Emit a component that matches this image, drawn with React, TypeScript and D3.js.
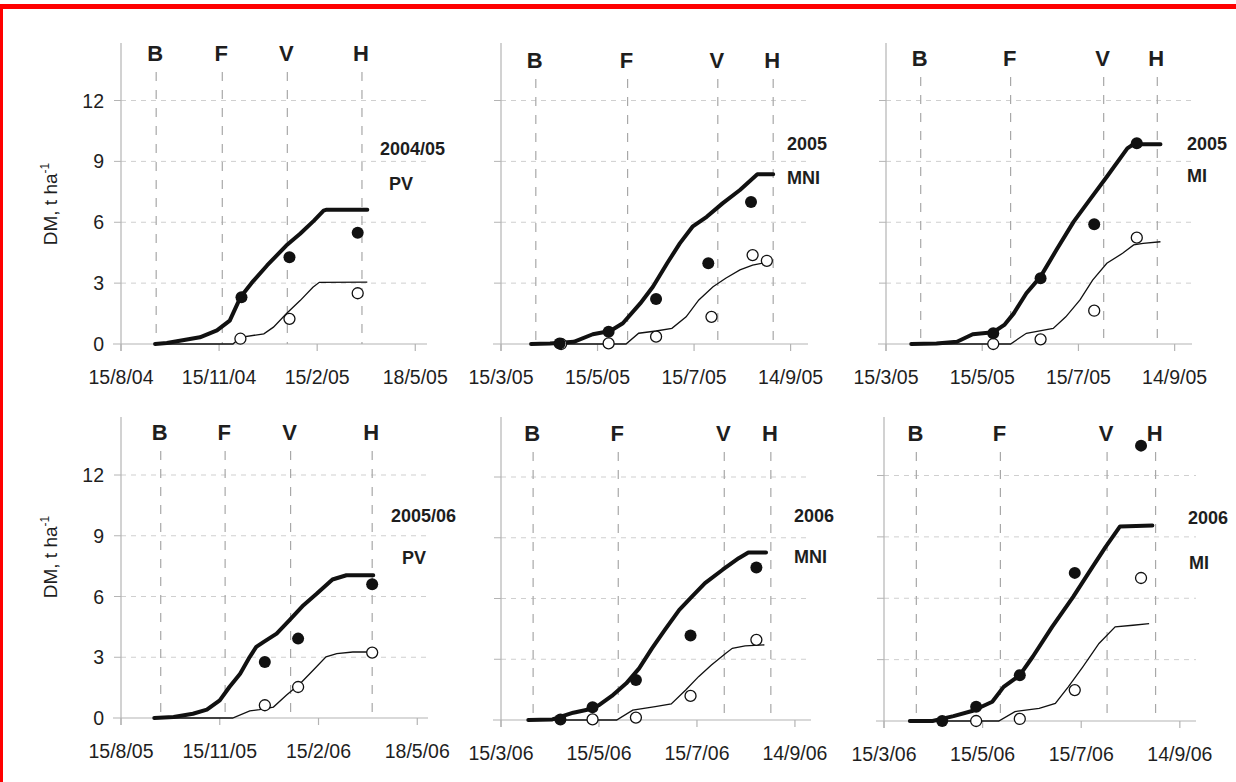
import React from 'react'
import * as d3 from 'd3'

type Pt = [string, number]

// ---------- data ----------
const stageNames = ['B', 'F', 'V', 'H']
const yTicks = [0, 3, 6, 9, 12]

// 2004/05 PV
const domain0405 = ['2004-08-15', '2005-05-29']
const ticks0405 = ['2004-08-15', '2004-11-15', '2005-02-15', '2005-05-18']
const stages0405 = ['2004-09-17', '2004-11-18', '2005-01-18', '2005-03-29']
const total0405: Pt[] = [['2004-09-16', 0], ['2004-09-27', 0.05], ['2004-10-28', 0.33], ['2004-11-13', 0.67], ['2004-11-25', 1.15], ['2004-12-05', 2.3], ['2004-12-17', 3.1], ['2004-12-30', 3.87], ['2005-01-17', 4.85], ['2005-01-30', 5.43], ['2005-02-12', 6.08], ['2005-02-21', 6.57], ['2005-02-24', 6.62], ['2005-04-03', 6.62]]
const grain0405: Pt[] = [['2004-09-16', 0], ['2004-11-28', 0], ['2004-12-05', 0.33], ['2004-12-27', 0.5], ['2005-01-05', 0.83], ['2005-01-17', 1.49], ['2005-01-30', 2.14], ['2005-02-11', 2.8], ['2005-02-17', 3.04], ['2005-04-03', 3.05]]
const obsTotal0405: Pt[] = [['2004-12-06', 2.3], ['2005-01-20', 4.28], ['2005-03-25', 5.48]]
const obsGrain0405: Pt[] = [['2004-12-05', 0.26], ['2005-01-20', 1.24], ['2005-03-25', 2.5]]

// 2005 MNI
const domain2005 = ['2005-03-15', '2005-09-25']
const ticks2005 = ['2005-03-15', '2005-05-15', '2005-07-15', '2005-09-14']
const stages05mni = ['2005-04-06', '2005-06-03', '2005-07-30', '2005-09-03']
const total05mni: Pt[] = [['2005-04-03', 0], ['2005-04-15', 0.03], ['2005-04-30', 0.11], ['2005-05-12', 0.48], ['2005-05-23', 0.64], ['2005-05-31', 1.02], ['2005-06-11', 2.0], ['2005-06-19', 2.82], ['2005-06-28', 3.98], ['2005-07-06', 4.96], ['2005-07-14', 5.78], ['2005-07-23', 6.27], ['2005-08-02', 6.93], ['2005-08-13', 7.59], ['2005-08-24', 8.36], ['2005-09-03', 8.36]]
const grain05mni: Pt[] = [['2005-04-03', 0], ['2005-06-02', 0], ['2005-06-10', 0.53], ['2005-06-21', 0.64], ['2005-07-01', 0.77], ['2005-07-10', 1.34], ['2005-07-18', 2.17], ['2005-07-27', 2.82], ['2005-08-04', 3.24], ['2005-08-13', 3.65], ['2005-08-21', 3.89], ['2005-09-01', 4.05]]
const obsTotal05mni: Pt[] = [['2005-04-21', 0.03], ['2005-05-22', 0.6], ['2005-06-21', 2.22], ['2005-07-24', 3.98], ['2005-08-20', 7.0]]
const obsGrain05mni: Pt[] = [['2005-04-22', 0], ['2005-05-22', 0.03], ['2005-06-21', 0.36], ['2005-07-26', 1.34], ['2005-08-21', 4.38], ['2005-08-30', 4.1]]

// 2005 MI
const stages05mi = ['2005-04-06', '2005-06-02', '2005-07-31', '2005-09-03']
const total05mi: Pt[] = [['2005-03-31', 0], ['2005-04-16', 0.03], ['2005-04-29', 0.11], ['2005-05-09', 0.48], ['2005-05-22', 0.58], ['2005-05-29', 0.94], ['2005-06-04', 1.51], ['2005-06-12', 2.5], ['2005-06-21', 3.32], ['2005-07-01', 4.63], ['2005-07-12', 6.03], ['2005-07-22', 7.09], ['2005-08-02', 8.24], ['2005-08-15', 9.64], ['2005-08-19', 9.85], ['2005-09-05', 9.85]]
const grain05mi: Pt[] = [['2005-03-31', 0], ['2005-06-02', 0], ['2005-06-12', 0.53], ['2005-06-29', 0.77], ['2005-07-07', 1.34], ['2005-07-16', 2.17], ['2005-07-24', 3.15], ['2005-08-02', 3.98], ['2005-08-12', 4.47], ['2005-08-19', 4.88], ['2005-08-25', 4.96], ['2005-09-05', 5.04]]
const obsTotal05mi: Pt[] = [['2005-05-22', 0.53], ['2005-06-21', 3.24], ['2005-07-25', 5.9], ['2005-08-21', 9.89]]
const obsGrain05mi: Pt[] = [['2005-05-22', 0], ['2005-06-21', 0.23], ['2005-07-25', 1.64], ['2005-08-21', 5.24]]

// 2005/06 PV
const domain0506 = ['2005-08-15', '2006-05-28']
const ticks0506 = ['2005-08-15', '2005-11-15', '2006-02-15', '2006-05-18']
const stages0506 = ['2005-09-21', '2005-11-20', '2006-01-20', '2006-04-06']
const total0506: Pt[] = [['2005-09-15', 0], ['2005-10-03', 0.05], ['2005-10-21', 0.21], ['2005-11-03', 0.41], ['2005-11-15', 0.87], ['2005-11-24', 1.53], ['2005-12-04', 2.19], ['2005-12-13', 3.02], ['2005-12-19', 3.51], ['2005-12-26', 3.76], ['2006-01-07', 4.17], ['2006-01-19', 4.83], ['2006-02-01', 5.57], ['2006-02-13', 6.12], ['2006-02-28', 6.84], ['2006-03-13', 7.05], ['2006-04-07', 7.05]]
const grain0506: Pt[] = [['2005-09-15', 0], ['2005-11-27', 0], ['2005-12-13', 0.35], ['2005-12-22', 0.41], ['2006-01-04', 0.54], ['2006-01-16', 1.12], ['2006-01-29', 1.7], ['2006-02-10', 2.36], ['2006-02-22', 3.02], ['2006-03-04', 3.18], ['2006-03-19', 3.26], ['2006-04-07', 3.26]]
const obsTotal0506: Pt[] = [['2005-12-27', 2.77], ['2006-01-27', 3.92], ['2006-04-06', 6.61]]
const obsGrain0506: Pt[] = [['2005-12-27', 0.63], ['2006-01-27', 1.53], ['2006-04-06', 3.23]]

// 2006 MNI
const domain2006 = ['2006-03-15', '2006-09-24']
const ticks2006 = ['2006-03-15', '2006-05-15', '2006-07-15', '2006-09-14']
const stages06mni = ['2006-04-04', '2006-05-27', '2006-08-01', '2006-08-30']
const total06mni: Pt[] = [['2006-04-01', 0], ['2006-04-16', 0.03], ['2006-04-29', 0.36], ['2006-05-07', 0.49], ['2006-05-15', 0.74], ['2006-05-23', 1.19], ['2006-06-01', 1.81], ['2006-06-09', 2.55], ['2006-06-17', 3.54], ['2006-06-25', 4.45], ['2006-07-04', 5.44], ['2006-07-12', 6.1], ['2006-07-20', 6.76], ['2006-07-31', 7.42], ['2006-08-10', 7.99], ['2006-08-16', 8.27], ['2006-08-27', 8.27]]
const grain06mni: Pt[] = [['2006-04-01', 0], ['2006-05-26', 0], ['2006-06-05', 0.49], ['2006-06-19', 0.66], ['2006-06-29', 0.79], ['2006-07-08', 1.48], ['2006-07-16', 2.14], ['2006-07-24', 2.72], ['2006-08-02', 3.3], ['2006-08-06', 3.54], ['2006-08-14', 3.66], ['2006-08-26', 3.71]]
const obsTotal06mni: Pt[] = [['2006-04-21', 0.03], ['2006-05-11', 0.63], ['2006-06-07', 1.98], ['2006-07-11', 4.17], ['2006-08-21', 7.53]]
const obsGrain06mni: Pt[] = [['2006-05-11', 0.03], ['2006-06-07', 0.12], ['2006-07-11', 1.19], ['2006-08-21', 3.96]]

// 2006 MI
const stages06mi = ['2006-04-04', '2006-05-26', '2006-07-31', '2006-08-30']
const total06mi: Pt[] = [['2006-03-31', 0], ['2006-04-14', 0], ['2006-04-27', 0.24], ['2006-05-09', 0.5], ['2006-05-21', 0.94], ['2006-05-28', 1.67], ['2006-06-07', 2.24], ['2006-06-15', 3.14], ['2006-06-27', 4.6], ['2006-07-10', 6.07], ['2006-07-22', 7.53], ['2006-07-30', 8.5], ['2006-08-08', 9.51], ['2006-08-28', 9.56]]
const grain06mi: Pt[] = [['2006-03-31', 0], ['2006-05-25', 0], ['2006-06-04', 0.46], ['2006-06-19', 0.62], ['2006-06-29', 0.86], ['2006-07-07', 1.67], ['2006-07-16', 2.65], ['2006-07-26', 3.79], ['2006-08-05', 4.6], ['2006-08-16', 4.68], ['2006-08-26', 4.76]]
const obsTotal06mi: Pt[] = [['2006-04-20', 0], ['2006-05-11', 0.7], ['2006-06-07', 2.24], ['2006-07-11', 7.24], ['2006-08-21', 13.46]]
const obsGrain06mi: Pt[] = [['2006-05-11', 0], ['2006-06-07', 0.1], ['2006-07-11', 1.51], ['2006-08-21', 6.99]]

const panels = [
  { domain: domain0405, ticks: ticks0405, stages: stages0405, total: total0405, grain: grain0405, obsTotal: obsTotal0405, obsGrain: obsGrain0405, labels: ['2004/05', 'PV'] },
  { domain: domain2005, ticks: ticks2005, stages: stages05mni, total: total05mni, grain: grain05mni, obsTotal: obsTotal05mni, obsGrain: obsGrain05mni, labels: ['2005', 'MNI'] },
  { domain: domain2005, ticks: ticks2005, stages: stages05mi, total: total05mi, grain: grain05mi, obsTotal: obsTotal05mi, obsGrain: obsGrain05mi, labels: ['2005', 'MI'] },
  { domain: domain0506, ticks: ticks0506, stages: stages0506, total: total0506, grain: grain0506, obsTotal: obsTotal0506, obsGrain: obsGrain0506, labels: ['2005/06', 'PV'] },
  { domain: domain2006, ticks: ticks2006, stages: stages06mni, total: total06mni, grain: grain06mni, obsTotal: obsTotal06mni, obsGrain: obsGrain06mni, labels: ['2006', 'MNI'] },
  { domain: domain2006, ticks: ticks2006, stages: stages06mi, total: total06mi, grain: grain06mi, obsTotal: obsTotal06mi, obsGrain: obsGrain06mi, labels: ['2006', 'MI'] },
]

// ---------- layout ----------
const layout = [
  { left: 121, right: 427, y0: 344, y12: 100.5, top: 43, stageY: 53, yLabels: true, lx: [380, 389], ly: [148, 183] },
  { left: 501, right: 808, y0: 344, y12: 100.5, top: 43, stageY: 60, yLabels: false, lx: [787, 787], ly: [143, 177] },
  { left: 886, right: 1192, y0: 344, y12: 100.5, top: 43, stageY: 58, yLabels: false, lx: [1187, 1187], ly: [143, 175] },
  { left: 121, right: 428, y0: 718, y12: 475, top: 417, stageY: 432, yLabels: true, lx: [391, 402], ly: [515, 557] },
  { left: 501, right: 811, y0: 720, y12: 477, top: 417, stageY: 433, yLabels: false, lx: [794, 794], ly: [515, 556] },
  { left: 884, right: 1196, y0: 721, y12: 475.5, top: 417, stageY: 433, yLabels: false, lx: [1188, 1189], ly: [517, 562] },
]

const parse = d3.utcParse('%Y-%m-%d')
const fmt = d3.utcFormat('%-d/%-m/%y')
const FONT = "'Liberation Sans', Arial, sans-serif"
const AXIS = '#b4b4b4'
const GRID = '#cfcfcf'
const STAGE = '#a8a8a8'
const TEXT = '#1e1e1e'

const Panel = ({ p, l }: { p: typeof panels[0]; l: typeof layout[0] }) => {
  const x = d3.scaleUtc().domain(p.domain.map((d) => parse(d)!)).range([l.left, l.right])
  const y = d3.scaleLinear().domain([0, 12]).range([l.y0, l.y12])
  const line = d3.line<Pt>().x((d) => x(parse(d[0])!)).y((d) => y(d[1]))

  return (
    <g>
      {/* horizontal grid + y ticks */}
      {yTicks.filter((t) => t > 0).map((t) => (
        <g key={t}>
          <line x1={l.left} x2={l.right} y1={y(t)} y2={y(t)} stroke={GRID} strokeWidth={1} strokeDasharray="5,5" />
          <line x1={l.left - 7} x2={l.left} y1={y(t)} y2={y(t)} stroke={AXIS} strokeWidth={1} />
        </g>
      ))}
      {l.yLabels && yTicks.map((t) => (
        <text key={'yl' + t} x={l.left - 17} y={y(t)} dy="0.36em" textAnchor="end" fontSize={19.5} fill={TEXT} fontFamily={FONT}>{t}</text>
      ))}
      {/* axes */}
      <line x1={l.left} x2={l.left} y1={l.top} y2={l.y0 + 7} stroke={AXIS} strokeWidth={1.2} />
      <line x1={l.left - 8} x2={l.right} y1={l.y0} y2={l.y0} stroke={AXIS} strokeWidth={1.2} />
      {p.ticks.map((t) => {
        const tx = x(parse(t)!)
        return (
          <g key={t}>
            <line x1={tx} x2={tx} y1={l.y0} y2={l.y0 + 7} stroke={AXIS} strokeWidth={1.2} />
            <text x={tx} y={l.y0 + 40} textAnchor="middle" fontSize={19.5} fill={TEXT} fontFamily={FONT}>{fmt(parse(t)!)}</text>
          </g>
        )
      })}
      {/* phenological stages */}
      {p.stages.map((s, i) => {
        const sx = x(parse(s)!)
        return (
          <g key={s}>
            <line x1={sx} x2={sx} y1={l.stageY + 19} y2={l.y0} stroke={STAGE} strokeWidth={1.2} strokeDasharray="9,9" />
            <text x={sx - 1} y={l.stageY + 8} textAnchor="middle" fontSize={22} fontWeight="bold" fill={TEXT} fontFamily={FONT}>{stageNames[i]}</text>
          </g>
        )
      })}
      {/* simulated curves */}
      <path d={line(p.grain) || ''} fill="none" stroke="#111" strokeWidth={1.3} />
      <path d={line(p.total) || ''} fill="none" stroke="#111" strokeWidth={4} strokeLinejoin="round" strokeLinecap="round" />
      {/* observations */}
      {p.obsGrain.map((d, i) => (
        <circle key={'g' + i} cx={x(parse(d[0])!)} cy={y(d[1])} r={5.5} fill="#fff" stroke="#111" strokeWidth={1.3} />
      ))}
      {p.obsTotal.map((d, i) => (
        <circle key={'t' + i} cx={x(parse(d[0])!)} cy={y(d[1])} r={6} fill="#111" />
      ))}
      {/* labels */}
      {p.labels.map((t, i) => (
        <text key={t} x={l.lx[i]} y={l.ly[i] + 6.5} fontSize={18} fontWeight="bold" fill={TEXT} fontFamily={FONT}>{t}</text>
      ))}
    </g>
  )
}

const App = () => {
  return (
    <svg width={1236} height={782} style={{ position: 'absolute', left: 0, top: 0, background: '#fff' }}>
      <rect x={0} y={0} width={1236} height={782} fill="#fff" />
      <rect x={0} y={4} width={1236} height={5} fill="#ff0000" />
      <rect x={0} y={4} width={3} height={778} fill="#ff0000" />
      {panels.map((p, i) => (
        <Panel key={i} p={p} l={layout[i]} />
      ))}
      {[204, 557].map((cy) => (
        <text key={cy} transform={`translate(57,${cy}) rotate(-90)`} textAnchor="middle" fontSize={19} fill={TEXT} fontFamily={FONT}>
          DM, t ha<tspan dy={-8} fontSize={12}>-1</tspan>
        </text>
      ))}
    </svg>
  )
}

export default App
